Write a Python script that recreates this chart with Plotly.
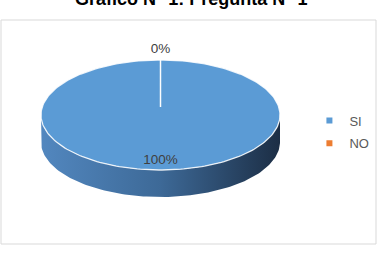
import numpy as np
import plotly.graph_objects as go

categories = ["SI", "NO"]
values = [100, 0]
colors = ["#5B9BD5", "#ED7D31"]
side_scales = [
    [[0, "#5287bf"], [0.5, "#3d6997"], [1, "#1c2e45"]],
    [[0, "#e07a35"], [0.5, "#b85f22"], [1, "#7a3e14"]],
]
title = "Gráfico N° 1: Pregunta N° 1"

W, H = 382, 253
cx, cy, rx, ry, depth = 160.5, 115.0, 119.5, 55.0, 27.0
pivot = (cx, cy - 8)


def rim(theta_deg, dy=0.0):
    th = np.radians(theta_deg)
    return cx + rx * np.sin(th), cy - ry * np.cos(th) + dy


total = float(sum(values))
fig = go.Figure()

# slice angles (clockwise from 12 o'clock)
bounds = []
acc = 0.0
for v in values:
    a0 = acc / total * 360.0
    acc += v
    a1 = acc / total * 360.0
    bounds.append((a0, a1))

# side walls (front half visible: 90..270 deg)
for (a0, a1), cs in zip(bounds, side_scales):
    s0, s1 = max(a0, 90.0), min(a1, 270.0)
    if s1 - s0 <= 0:
        continue
    th = np.linspace(s0, s1, 120)
    xt, yt = rim(th)
    xb, yb = rim(th[::-1], depth)
    fig.add_trace(go.Scatter(
        x=np.concatenate([xt, xb, xt[:1]]), y=np.concatenate([yt, yb, yt[:1]]),
        mode="lines", fill="toself", line=dict(width=0),
        fillgradient=dict(type="horizontal", colorscale=cs),
        hoverinfo="skip", showlegend=False))

# top faces
for (a0, a1), col, cat in zip(bounds, colors, categories):
    n = max(2, int((a1 - a0) / 1.5) + 2)
    th = np.linspace(a0, a1, n)
    xr, yr = rim(th)
    xs = np.concatenate([[pivot[0]], xr, [pivot[0]]])
    ys = np.concatenate([[pivot[1]], yr, [pivot[1]]])
    fig.add_trace(go.Scatter(
        x=xs, y=ys, mode="lines", fill="toself", fillcolor=col,
        line=dict(color="rgba(255,255,255,0.85)", width=1.3),
        hoverinfo="skip", showlegend=False))

# data labels
for (a0, a1), v in zip(bounds, values):
    share = v / total
    mid = np.radians((a0 + a1) / 2.0)
    f = 0.83 if share >= 0.05 else 1.18
    lx = cx + f * rx * np.sin(mid)
    ly = cy - f * ry * np.cos(mid)
    fig.add_trace(go.Scatter(
        x=[lx], y=[ly], mode="text", text=[f"{share*100:.0f}%"],
        textfont=dict(family="Liberation Sans, Arial", size=13.5, color="#404040"),
        hoverinfo="skip", showlegend=False))

# legend entries
for cat, col in zip(categories, colors):
    fig.add_trace(go.Scatter(
        x=[None], y=[None], mode="markers", name=cat, legendgroup=cat,
        marker=dict(symbol="square", size=6, color=col)))

fig.add_shape(type="rect", x0=1, x1=376, y0=20, y1=244,
              line=dict(color="#d9d9d9", width=1), layer="below")

fig.add_annotation(x=190.5, y=11.5, xref="x", yref="y", yanchor="bottom",
                   text=f"<b>{title}</b>", showarrow=False,
                   font=dict(family="Liberation Sans, Arial", size=18, color="#000000"))

fig.update_layout(
    width=W, height=H, margin=dict(l=0, r=0, t=0, b=0),
    paper_bgcolor="white", plot_bgcolor="white",
    xaxis=dict(range=[0, W], visible=False, fixedrange=True),
    yaxis=dict(range=[H, 0], visible=False, fixedrange=True),
    showlegend=True,
    legend=dict(x=0.81, y=0.583, xanchor="left", yanchor="top",
                traceorder="grouped", tracegroupgap=3,
                font=dict(family="Liberation Sans, Arial", size=13, color="#595959"),
                bgcolor="rgba(0,0,0,0)"),
)

fig.write_html("out.html")
